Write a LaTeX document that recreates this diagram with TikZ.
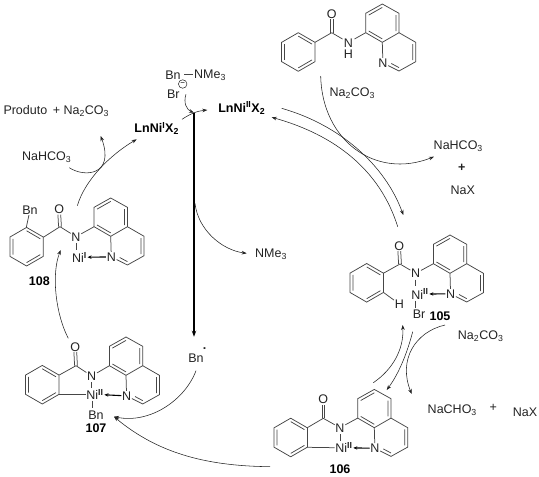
\documentclass[tikz,border=0pt]{standalone}
\usepackage{fontspec}
\setmainfont{Liberation Sans}
\usepackage{tikz}
\usetikzlibrary{arrows.meta, positioning, calc}
\definecolor{bondGray}{RGB}{70, 70, 70}
\definecolor{inkDark}{RGB}{35, 35, 35}
\tikzset{
  bond/.style={draw=bondGray, line width=0.75pt},
  rxn/.style={draw=inkDark, line width=0.55pt, -{Stealth[length=5pt, width=3.6pt]}},
  coord/.style={-{Stealth[length=4pt, width=3.4pt]}, draw=black, line width=1.1pt},
  atom/.style={font=\fontsize{12.5}{12}\selectfont, text=inkDark, inner sep=0.6pt},
  lbl/.style={font=\fontsize{12.5}{12}\selectfont, text=inkDark, inner sep=0pt},
  boldlbl/.style={font=\fontsize{12.5}{12}\selectfont\bfseries, text=black, inner sep=0pt}
}
% rings, local origin at the ring junction or the ring centre
\newcommand{\quinring}[3]{%
  \begin{scope}[shift={(#1,#2)}]
    \node[atom] (#3N) at (0.6,20.6) {N};
    \draw[bond] (#3N) -- (0,0) -- (-16.6,-9.6) -- (-16.6,-29) -- (0,-38.3) -- (16.7,-29) -- (16.7,-9.6) -- (0,0);
    \draw[bond] (16.7,-9.6) -- (33.4,0) -- (33.4,19.4) -- (16.7,28.7) -- (#3N);
    \draw[bond] (-13.6,-27.2) -- (0,-34.9) (13.7,-27.2) -- (13.7,-11.3) (0,-3.4) -- (-13.6,-11.3);
    \draw[bond] (30.4,1.7) -- (30.4,17.7) (16.7,25.3) -- (9,21.2);
    \coordinate (#3C) at (-16.6,-9.6);
  \end{scope}}
\newcommand{\benzring}[2]{%
  \begin{scope}[shift={(#1,#2)}]
    \draw[bond] (-16.7,-9.65) -- (0,-19.3) -- (16.7,-9.65) -- (16.7,9.65) -- (0,19.3) -- (-16.7,9.65) -- cycle;
    \draw[bond] (-13.7,-7.9) -- (-13.7,7.9) (0,-15.9) -- (13.7,-7.9) (13.7,7.9) -- (0,15.9);
  \end{scope}}
\begin{document}
\begin{tikzpicture}[x=1pt, y=-1pt]
  \useasboundingbox (0,0) rectangle (539,477);
  % Amide on top
  \benzring{298.3}{52}
  \quinring{382.3}{42.3}{qa}
  \node[atom] (oa) at (331.7,14) {O};
  \node[atom, align=center] (na) at (348.3,48.5) {N\\[-0.5pt]H};
  \coordinate (ca) at (331.7,32.7);
  \draw[bond] (315,42.3) -- (ca);
  \draw[bond] ($(ca)+(-1.4,0)$) -- ($(oa.south)+(-1.4,0)$) ($(ca)+(1.4,0)$) -- ($(oa.south)+(1.4,0)$);
  \draw[bond] (ca) -- (342.5,39) (354.5,39) -- (qaC);
  % 105
  \benzring{366.7}{282.8}
  \quinring{450}{273.3}{qb}
  \node[atom] (ob) at (399.3,246) {O};
  \node[atom] (nb) at (415.7,273.3) {N};
  \node[atom] (hb) at (399.3,304) {H};
  \node[atom, anchor=west] (nib) at (410.6,294) {Ni\textsuperscript{\textbf{II}}};
  \node[atom] (brb) at (419,314) {Br};
  \node[boldlbl] (l105) at (440,316) {105};
  \coordinate (cb) at (400,264);
  \draw[bond] (383.3,273.3) -- (cb) -- (nb) (nb) -- (qbC);
  \draw[bond] ($(cb)+(-1.4,0)$) -- ($(ob.south)+(-1.4,0)$) ($(cb)+(1.4,0)$) -- ($(ob.south)+(1.4,0)$);
  \draw[bond] (383.3,292.3) -- (hb);
  \draw[bond] (415.7,279.5) -- (415.7,286) (415.7,300.7) -- (415.7,307.5);
  \draw[coord] (qbN) -- (nib);
  % 106
  \benzring{290.7}{437.5}
  \quinring{374.3}{427.7}{qc}
  \node[atom] (oc) at (323.3,399.3) {O};
  \node[atom] (nc) at (340,427.7) {N};
  \node[atom, anchor=west] (nic) at (334.6,447.7) {Ni\textsuperscript{\textbf{II}}};
  \node[boldlbl] (l106) at (340,469) {106};
  \coordinate (cc) at (323.3,418.3);
  \draw[bond] (307.3,427.7) -- (cc) -- (nc) (nc) -- (qcC);
  \draw[bond] ($(cc)+(-1.4,0)$) -- ($(oc.south)+(-1.4,0)$) ($(cc)+(1.4,0)$) -- ($(oc.south)+(1.4,0)$);
  \draw[bond] (340,434) -- (340,440.5);
  \draw[bond] (307.3,447.3) -- (nic.west);
  \draw[coord] (qcN) -- (nic);
  % 107
  \benzring{42.3}{384.7}
  \quinring{126}{375.3}{qd}
  \node[atom] (od) at (75.3,346.7) {O};
  \node[atom] (nd) at (91.7,376) {N};
  \node[atom, anchor=west] (nid) at (85.6,394.3) {Ni\textsuperscript{\textbf{II}}};
  \node[atom] (bnd) at (96,415.3) {Bn};
  \node[boldlbl] (l107) at (96,427.7) {107};
  \coordinate (cd) at (76,365.7);
  \draw[bond] (59.3,375) -- (cd) -- (nd) (nd) -- (qdC);
  \draw[bond] ($(cd)+(-1.4,0)$) -- ($(od.south)+(-1.4,0)$) ($(cd)+(1.4,0)$) -- ($(od.south)+(1.4,0)$);
  \draw[bond] (91.7,382) -- (91.7,387.5);
  \draw[bond] (59.3,394.3) -- (nid.west);
  \draw[bond] (92.3,400.7) -- (92.3,407.8);
  \draw[coord] (qdN) -- (nid);
  % 108
  \benzring{26.6}{246.7}
  \quinring{110.7}{236.3}{qe}
  \node[atom] (oe) at (59.3,209.3) {O};
  \node[atom] (ne) at (76,236.7) {N};
  \node[atom, anchor=west] (nie) at (71.2,257.3) {Ni\textsuperscript{\textbf{I}}};
  \node[atom] (bne) at (30,210) {Bn};
  \node[boldlbl] (l108) at (39.3,281.3) {108};
  \coordinate (ce) at (60,226.7);
  \draw[bond] (43.3,237.3) -- (ce) -- (ne) (ne) -- (qeC);
  \draw[bond] ($(ce)+(-1.4,0)$) -- ($(oe.south)+(-1.4,0)$) ($(ce)+(1.4,0)$) -- ($(oe.south)+(1.4,0)$);
  \draw[bond] (26.3,227.4) -- (bne);
  \draw[bond] (76,243) -- (76,250);
  \draw[coord] (qeN) -- (nie);
  % Labels
  \node[lbl, anchor=west] (prod) at (3.3,111) {Produto\, + Na\textsubscript{2}CO\textsubscript{3}};
  \node[lbl] (bica) at (46.7,157.3) {NaHCO\textsubscript{3}};
  \node[boldlbl] (nione) at (156.7,128.3) {LnNi\textsuperscript{I}X\textsubscript{2}};
  \node[boldlbl] (nitwo) at (241.7,108) {LnNi\textsuperscript{II}X\textsubscript{2}};
  \node[lbl] (bnq) at (173,75) {Bn};
  \node[lbl] (nme) at (210,75.5) {NMe\textsubscript{3}};
  \node[lbl] (brq) at (173.3,94.3) {Br};
  \node[draw=inkDark, circle, line width=0.5pt, minimum size=8.5pt, inner sep=0pt, font=\fontsize{8}{8}\selectfont] (minus) at (182.7,84) {−};
  \draw[bond] (184,74) -- (192.7,74);
  \node[lbl] (nmeb) at (271,254.5) {NMe\textsubscript{3}};
  \node[lbl] (bnr) at (196,357.7) {Bn};
  \node[lbl] (dot) at (204.7,349) {\textbf{.}};
  \node[lbl] (soda) at (352.3,92.7) {Na\textsubscript{2}CO\textsubscript{3}};
  \node[lbl] (bicb) at (458.3,146) {NaHCO\textsubscript{3}};
  \node[lbl] (plusa) at (461.7,167.7) {\textbf{+}};
  \node[lbl] (naxa) at (462.7,190) {NaX};
  \node[lbl] (sodb) at (480.7,336) {Na\textsubscript{2}CO\textsubscript{3}};
  \node[lbl] (bicc) at (452.3,410) {NaCHO\textsubscript{3}};
  \node[lbl] (plusb) at (493.3,408.3) {+};
  \node[lbl] (naxb) at (525,412.7) {NaX};
  % Free ends of the curves
  \coordinate (meet) at (194,112.7);
  \coordinate (radend) at (194,336.7);
  \coordinate (i107) at (114,416.7);
  \coordinate (i108) at (60.7,250);
  \coordinate (o107) at (68.3,338.3);
  \coordinate (o108) at (77.3,205.7);
  \coordinate (in1) at (136.7,139.3);
  \coordinate (o105a) at (397.7,226.7);
  \coordinate (i105a) at (403.3,215);
  \coordinate (o105b) at (412.7,331.7);
  \coordinate (i105b) at (402.7,325);
  \coordinate (o106a) at (373.3,382.7);
  \coordinate (i106a) at (386.7,390);
  \coordinate (o106b) at (270,466.7);
  % Cycle
  \draw[rxn] (o107) .. controls (56,315) and (51,275) .. (i108);
  \draw[rxn] (o108) .. controls (85,180) and (110,155) .. (in1);
  \draw[rxn] (69.3,167.7) .. controls (85,178) and (115,175) .. (100.7,136);
  \draw[rxn] (186,94.3) .. controls (183,103) and (187,110) .. (meet);
  \draw[rxn] (182,119.3) .. controls (190,114) and (197,111) .. (207.3,110);
  \draw[-{Stealth[length=6pt, width=4.5pt]}, draw=black, line width=1.5pt] (meet) -- (radend);
  \draw[rxn] (195,203.3) .. controls (198,230) and (222,250) .. (246.7,253.3);
  \draw[rxn] (196,370.7) .. controls (185,400) and (150,424) .. (i107);
  \draw[rxn] (o106b) .. controls (210,466) and (160,455) .. (i107);
  \draw[rxn] (320.7,76) .. controls (322,140) and (375,180) .. (434,156.7);
  \draw[rxn] (281.7,108.3) .. controls (340,125) and (385,165) .. (i105a);
  \draw[rxn] (o105a) .. controls (380,170) and (335,135) .. (271.7,117.3);
  \draw[rxn] (o106a) .. controls (392,370) and (404,350) .. (i105b);
  \draw[rxn] (o105b) .. controls (408,350) and (400,372) .. (i106a);
  \draw[rxn] (445,325) .. controls (415,332) and (398,360) .. (411.7,394);
\end{tikzpicture}
\end{document}
